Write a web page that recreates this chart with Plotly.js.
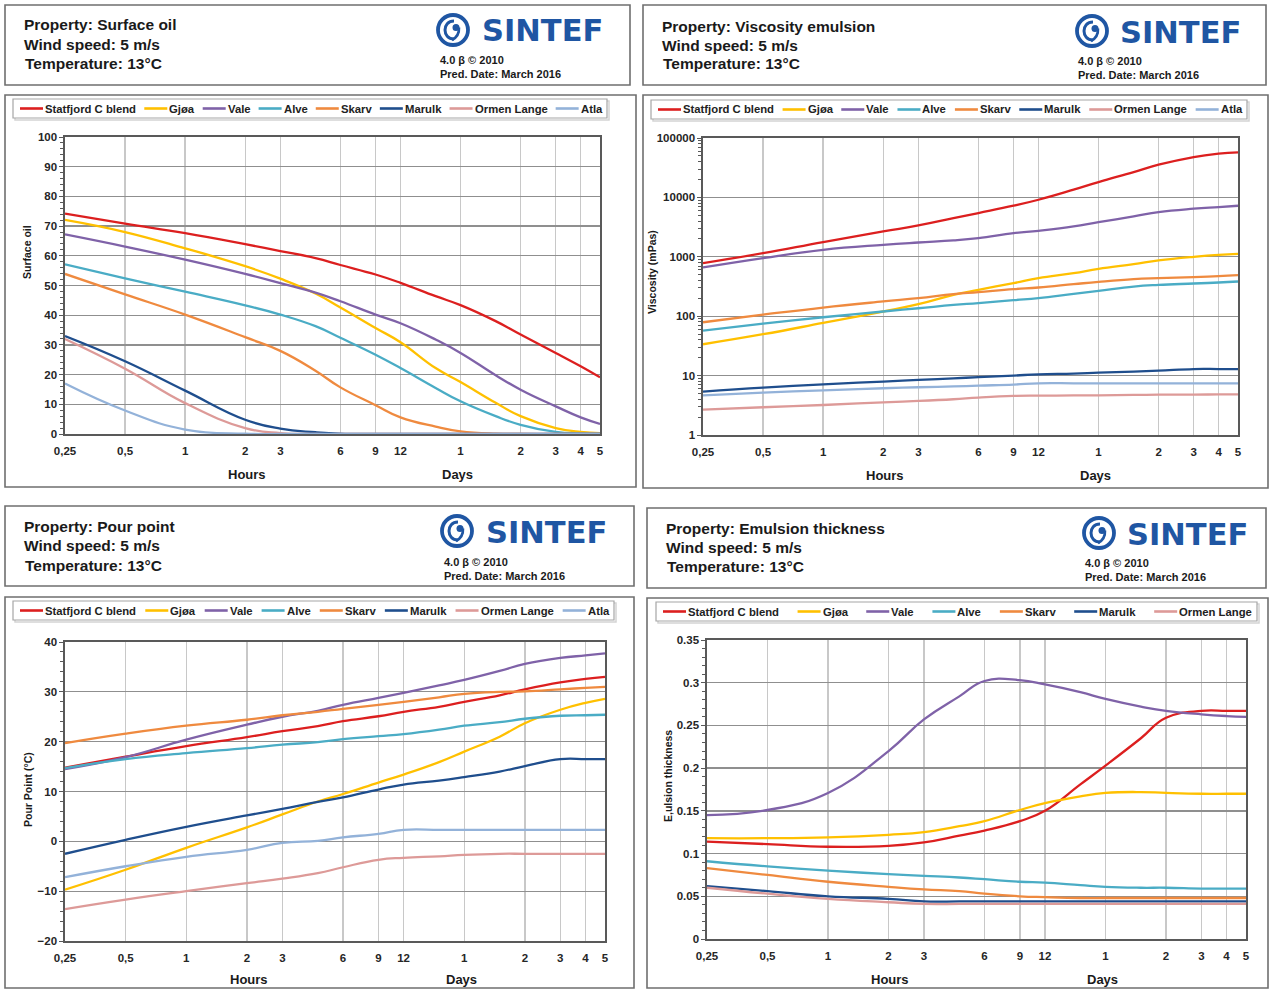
<!DOCTYPE html>
<html><head><meta charset="utf-8">
<script src="https://cdn.plot.ly/plotly-3.0.1.min.js"></script>
<style>html,body{margin:0;padding:0;background:#fff;overflow:hidden}#chart{width:1269px;height:989px}</style>
</head><body><div id="chart"></div>
<script>
// ---------------- DATA ----------------
const hours = [0.25,0.5,1,2,3,4.5,6,9,12,18,24,36,48,72,96,120];
const tickHours = [0.25,0.5,1,2,3,6,9,12,24,48,72,96,120];
const tickLabels = ['0,25','0,5','1','2','3','6','9','12','1','2','3','4','5'];
const oilNames = ['Statfjord C blend','Gjøa','Vale','Alve','Skarv','Marulk','Ormen Lange','Atla'];
const oilColors = ['#dc1f1f','#ffc000','#7f62a8','#4aacc5','#ef8a3f','#1f4e8d','#dd9a98','#93b2d9'];

// Surface oil (%)
const surfStatfjord = [74.2,70.8,67.6,63.9,61.6,59.2,56.9,53.7,50.9,46.4,43.4,38.0,33.5,27.3,22.8,19.1];
const surfGjoa      = [72.1,68.0,62.5,56.5,52.3,47.3,42.6,35.7,30.9,22.2,17.5,10.5,6.0,2.0,0.7,0.3];
const surfVale      = [67.2,63.1,58.7,53.9,50.8,47.6,44.7,40.2,37.3,31.8,27.3,19.8,14.9,9.3,5.6,3.4];
const surfAlve      = [57.1,52.4,47.9,43.3,40.2,36.3,32.4,26.7,22.2,15.5,11.0,6.0,3.1,0.7,0.2,0.1];
const surfSkarv     = [53.9,47.0,40.2,32.6,28.0,21.3,15.7,9.7,5.6,2.5,0.9,0.1,0,0,0,0];
const surfMarulk    = [33.0,24.5,14.6,4.8,1.8,0.6,0.1,0,0,0,0,0,0,0,0,0];
const surfOrmen     = [32.0,22.0,10.4,2.0,0.3,0,0,0,0,0,0,0,0,0,0,0];
const surfAtla      = [17.0,7.9,1.5,0.1,0,0,0,0,0,0,0,0,0,0,0,0];

// Viscosity emulsion (mPas)
const viscStatfjord = [782,1150,1770,2670,3370,4470,5450,7240,9130,13500,18100,26700,35500,47800,54400,57300];
const viscGjoa      = [33.7,49.7,77,120,159,229,278,360,437,530,628,752,868,1000,1080,1120];
const viscVale      = [661,950,1310,1590,1740,1885,2060,2500,2740,3240,3840,4780,5660,6450,6870,7240];
const viscAlve      = [57.3,75,96,120,136,155,166,186,201,238,267,316,337,355,369,384];
const viscSkarv     = [79,106,140,177,201,235,254,285,304,346,379,421,437,454,472,490];
const viscMarulk    = [5.37,6.28,7.14,7.92,8.45,9.0,9.4,10.0,10.5,10.8,11.2,11.7,12.1,12.9,12.9,12.9];
const viscOrmen     = [2.67,2.93,3.2,3.55,3.74,4.0,4.26,4.54,4.6,4.63,4.66,4.72,4.78,4.8,4.82,4.84];
const viscAtla      = [4.66,5.17,5.66,6.12,6.36,6.57,6.78,7.05,7.42,7.42,7.42,7.42,7.42,7.42,7.42,7.42];

// Pour point (°C)
const ppStatfjord = [14.8,17.0,19.1,20.9,22.1,23.1,24.1,25.1,26.0,27.0,28.0,29.3,30.5,31.9,32.6,33.0];
const ppGjoa      = [-9.7,-5.7,-1.3,2.8,5.4,8.0,9.5,11.8,13.4,15.9,18.0,21.0,23.7,26.4,27.8,28.6];
const ppVale      = [14.5,16.9,20.4,23.4,25.0,26.2,27.4,28.8,29.8,31.3,32.4,34.2,35.6,36.8,37.3,37.7];
const ppAlve      = [14.7,16.5,17.7,18.7,19.4,19.9,20.5,21.1,21.5,22.4,23.2,23.9,24.6,25.2,25.3,25.4];
const ppSkarv     = [19.7,21.6,23.2,24.4,25.3,26.0,26.6,27.4,28.0,28.9,29.6,30.0,30.1,30.5,30.8,31.0];
const ppMarulk    = [-2.5,0.3,2.9,5.2,6.5,7.9,8.8,10.4,11.4,12.2,12.9,14.0,15.1,16.5,16.5,16.5];
const ppOrmen     = [-13.6,-11.7,-10.0,-8.4,-7.5,-6.4,-5.2,-3.7,-3.3,-3.0,-2.7,-2.5,-2.5,-2.5,-2.5,-2.5];
const ppAtla      = [-7.2,-5.0,-3.1,-1.7,-0.3,0.1,0.8,1.5,2.3,2.3,2.3,2.3,2.3,2.3,2.3,2.3];

// Emulsion thickness (mm)
const emStatfjord = [0.114,0.111,0.108,0.109,0.113,0.121,0.127,0.138,0.150,0.181,0.203,0.235,0.259,0.267,0.267,0.267];
const emGjoa      = [0.118,0.118,0.119,0.122,0.125,0.132,0.138,0.151,0.159,0.167,0.171,0.172,0.171,0.170,0.170,0.170];
const emVale      = [0.145,0.151,0.171,0.220,0.257,0.284,0.302,0.303,0.298,0.289,0.281,0.272,0.267,0.263,0.261,0.260];
const emAlve      = [0.091,0.085,0.080,0.076,0.074,0.072,0.070,0.067,0.066,0.063,0.061,0.060,0.060,0.059,0.059,0.059];
const emSkarv     = [0.083,0.075,0.067,0.061,0.058,0.056,0.053,0.050,0.049,0.048,0.048,0.048,0.048,0.048,0.048,0.048];
const emMarulk    = [0.062,0.056,0.050,0.047,0.044,0.044,0.044,0.044,0.044,0.044,0.044,0.044,0.044,0.044,0.044,0.044];
const emOrmen     = [0.060,0.053,0.047,0.043,0.041,0.041,0.041,0.041,0.041,0.041,0.041,0.041,0.041,0.041,0.041,0.041];

const headerLines2 = 'Wind speed: 5 m/s';
const headerLines3 = 'Temperature: 13°C';

// ---------------- LAYOUT HELPERS ----------------
const W = 1269, H = 989;
const X = p => p / W, Y = p => 1 - p / H;
const FONT = 'Arial, "Liberation Sans", sans-serif';
const shapes = [], annotations = [], traces = [];
const layout = {width:W, height:H, margin:{l:0,r:0,t:0,b:0}, paper_bgcolor:'#fff', plot_bgcolor:'rgba(0,0,0,0)', showlegend:false, font:{family:FONT, color:'#222'}};

function ann(text, x, y, size, opts) {
  annotations.push(Object.assign({text, x:X(x), y:Y(y), xref:'paper', yref:'paper', showarrow:false,
    xanchor:'left', yanchor:'middle', font:{family:FONT, size, color:'#1a1a1a', weight:'bold'}}, opts || {}));
}
function rect(b, color, width, fill) {
  shapes.push({type:'rect', xref:'paper', yref:'paper', x0:X(b[0]), y0:Y(b[1]), x1:X(b[2]), y1:Y(b[3]),
    line:{color, width}, fillcolor: fill || 'rgba(0,0,0,0)'});
}
function path(cmds) {
  return cmds.map(c => c[0] + c.slice(1).map((v,i) => (i%2===0 ? X(v) : Y(v)).toFixed(6)).reduce((a,v,i)=> a + (i===0?'':(i%2===1?',':' ')) + v, '')).join(' ');
}
function logo(cx, cy, tx, sx, sy) {
  const blue = '#1f56a3';
  shapes.push({type:'circle', xref:'paper', yref:'paper', x0:X(cx-15), x1:X(cx+15), y0:Y(cy-15), y1:Y(cy+15), line:{color:blue, width:3.8}});
  const r = 9;
  shapes.push({type:'path', xref:'paper', yref:'paper', line:{color:blue, width:3},
    path: path([['M', cx+1, cy-r], ['C', cx+1-1.33*r, cy-r, cx+1-1.33*r, cy+r, cx+1, cy+r]])});
  shapes.push({type:'circle', xref:'paper', yref:'paper', x0:X(cx-0.5), x1:X(cx+6.5), y0:Y(cy-6), y1:Y(cy+1), line:{width:0}, fillcolor:blue});
  shapes.push({type:'path', xref:'paper', yref:'paper', line:{color:blue, width:2.6},
    path: path([['M', cx+6, cy-2.5], ['Q', cx+6.5, cy+6, cx-1, cy+10]])});
  ann('SINTEF', tx - 2, cy+1, 30.5, {font:{family:'"DejaVu Sans", Verdana, sans-serif', size:30.5, color:blue, weight:'bold'}});
  ann('4.0 β © 2010', sx, sy[0], 11);
  ann('Pred. Date: March 2016', sx, sy[1], 11);
}
const measureCtx = document.createElement('canvas').getContext('2d');
function legend(box, names, colors) {
  rect([box[0]+2, box[1]+2, box[2]+2, box[3]+2], '#d4d4d4', 1.5);
  rect(box, '#a6a6a6', 1.2, '#ffffff');
  const size = 11.3;
  measureCtx.font = 'bold ' + size + 'px ' + FONT;
  const lineLen = 23, gapT = 1;
  const widths = names.map(n => measureCtx.measureText(n).width + 2);
  const used = widths.reduce((a,b)=>a+b, 0) + names.length*(lineLen+gapT);
  const L = box[0] + 7, R = box[2] - 4;
  const gap = (R - L - used) / (names.length - 1);
  const cy = (box[1] + box[3]) / 2;
  let x = L;
  names.forEach((n, i) => {
    shapes.push({type:'line', xref:'paper', yref:'paper', x0:X(x), x1:X(x+lineLen), y0:Y(cy), y1:Y(cy), line:{color:colors[i], width:2.6}});
    ann(n, x + lineLen + gapT - 1, cy, size, {font:{family:FONT, size, color:'#222', weight:'bold'}});
    x += lineLen + gapT + widths[i] + gap;
  });
}

// ---------------- PANELS ----------------
const panels = [
  { ax:'', prop:'Property: Surface oil', plot:[65,137,600,434], header:[5,5,630,85], frame:[5,95,636,487],
    tx:22, ty:[25,44,63], logo:[453,30,482,438,[60,74]], legend:[13,99,607,118],
    ytitle:['Surface oil',27,252], hrs:[247,474], days:[457,474],
    names: oilNames, series:[surfStatfjord,surfGjoa,surfVale,surfAlve,surfSkarv,surfMarulk,surfOrmen,surfAtla],
    yaxis:{range:[0,100], dtick:10, tick0:0, minor:{dtick:2}} },
  { ax:'2', prop:'Property: Viscosity emulsion', plot:[703,138,1238,435], header:[643,5,1266,85], frame:[643,95,1268,488],
    tx:660, ty:[26,45,64], logo:[1092,31,1120,1076,[61,75]], legend:[651,100,1247,119],
    ytitle:['Viscosity (mPas)',652,272], hrs:[885,475], days:[1095,475],
    names: oilNames, series:[viscStatfjord,viscGjoa,viscVale,viscAlve,viscSkarv,viscMarulk,viscOrmen,viscAtla],
    yaxis:{type:'log', range:[0,5], tickmode:'array', tickvals:[1,10,100,1000,10000,100000], ticktext:['1','10','100','1000','10000','100000'], minor:{dtick:'D1'}} },
  { ax:'3', prop:'Property: Pour point', plot:[65,642,605,941], header:[5,506,634,586], frame:[5,597,634,988],
    tx:22, ty:[526,545,565], logo:[457,531,486,442,[562,576]], legend:[13,601,614,620],
    ytitle:['Pour Point (°C)',28,790], hrs:[249,979], days:[461,979],
    names: oilNames, series:[ppStatfjord,ppGjoa,ppVale,ppAlve,ppSkarv,ppMarulk,ppOrmen,ppAtla],
    yaxis:{range:[-20,40], dtick:10, tick0:0, minor:{dtick:2}} },
  { ax:'4', prop:'Property: Emulsion thickness', plot:[707,640,1246,939], header:[647,508,1266,588], frame:[647,598,1268,988],
    tx:664, ty:[528,547,566], logo:[1099,533,1127,1083,[563,577]], legend:[656,602,1257,621],
    ytitle:['E,ulsion thickness',668,776], hrs:[890,979], days:[1102,979],
    names: oilNames.slice(0,7), series:[emStatfjord,emGjoa,emVale,emAlve,emSkarv,emMarulk,emOrmen],
    yaxis:{range:[0,0.35], tickmode:'array', tickvals:[0,0.05,0.1,0.15,0.2,0.25,0.3,0.35], ticktext:['0','0.05','0.1','0.15','0.2','0.25','0.3','0.35'], minor:{dtick:0.01}} }
];

const tickFont = {family:FONT, size:11.5, color:'#262626', weight:'bold'};
panels.forEach(p => {
  const xa = 'xaxis' + p.ax, ya = 'yaxis' + p.ax;
  layout[xa] = {type:'log', domain:[X(p.plot[0]), X(p.plot[2])], anchor:'y'+p.ax,
    range:[Math.log10(0.25), Math.log10(120)], tickmode:'array', tickvals:tickHours, ticktext:tickLabels,
    showgrid:true, gridcolor:'#c8c8c8', gridwidth:1.3, showline:true, mirror:true, linecolor:'#595959', linewidth:1.6,
    ticks:'outside', ticklen:6, tickcolor:'rgba(0,0,0,0)', tickfont:tickFont, zeroline:false, fixedrange:true};
  const minor = Object.assign({ticks:'outside', ticklen:3, tickcolor:'#595959', tickwidth:1, showgrid:false}, p.yaxis.minor);
  layout[ya] = Object.assign({domain:[Y(p.plot[3]), Y(p.plot[1])], anchor:'x'+p.ax,
    showgrid:true, gridcolor:'#8f8f8f', gridwidth:1.3, showline:true, mirror:true, linecolor:'#595959', linewidth:1.6,
    ticks:'outside', ticklen:4, tickcolor:'#595959', tickfont:tickFont, zeroline:false, fixedrange:true}, p.yaxis, {minor});

  p.series.forEach((vals, i) => traces.push({type:'scatter', mode:'lines', name:p.names[i], x:hours, y:vals,
    xaxis:'x'+p.ax, yaxis:'y'+p.ax, line:{color:oilColors[i], width:2.3, shape:'spline', smoothing:1.3}, hoverinfo:'skip'}));

  rect(p.header, '#6f6f6f', 1.6);
  rect(p.frame, '#6f6f6f', 1.6);
  ann(p.prop, p.tx, p.ty[0], 15.5);
  ann(headerLines2, p.tx, p.ty[1], 15.5);
  ann(headerLines3, p.tx+1, p.ty[2], 15.5);
  logo(p.logo[0], p.logo[1], p.logo[2], p.logo[3], p.logo[4]);
  legend(p.legend, p.names, oilColors);
  ann(p.ytitle[0], p.ytitle[1], p.ytitle[2], 10.5, {xanchor:'center', textangle:-90});
  ann('Hours', p.hrs[0], p.hrs[1], 13, {xanchor:'center'});
  ann('Days', p.days[0], p.days[1], 13, {xanchor:'center'});
});

layout.shapes = shapes;
layout.annotations = annotations;
Plotly.newPlot('chart', traces, layout, {staticPlot:true, displayModeBar:false});
</script></body></html>
